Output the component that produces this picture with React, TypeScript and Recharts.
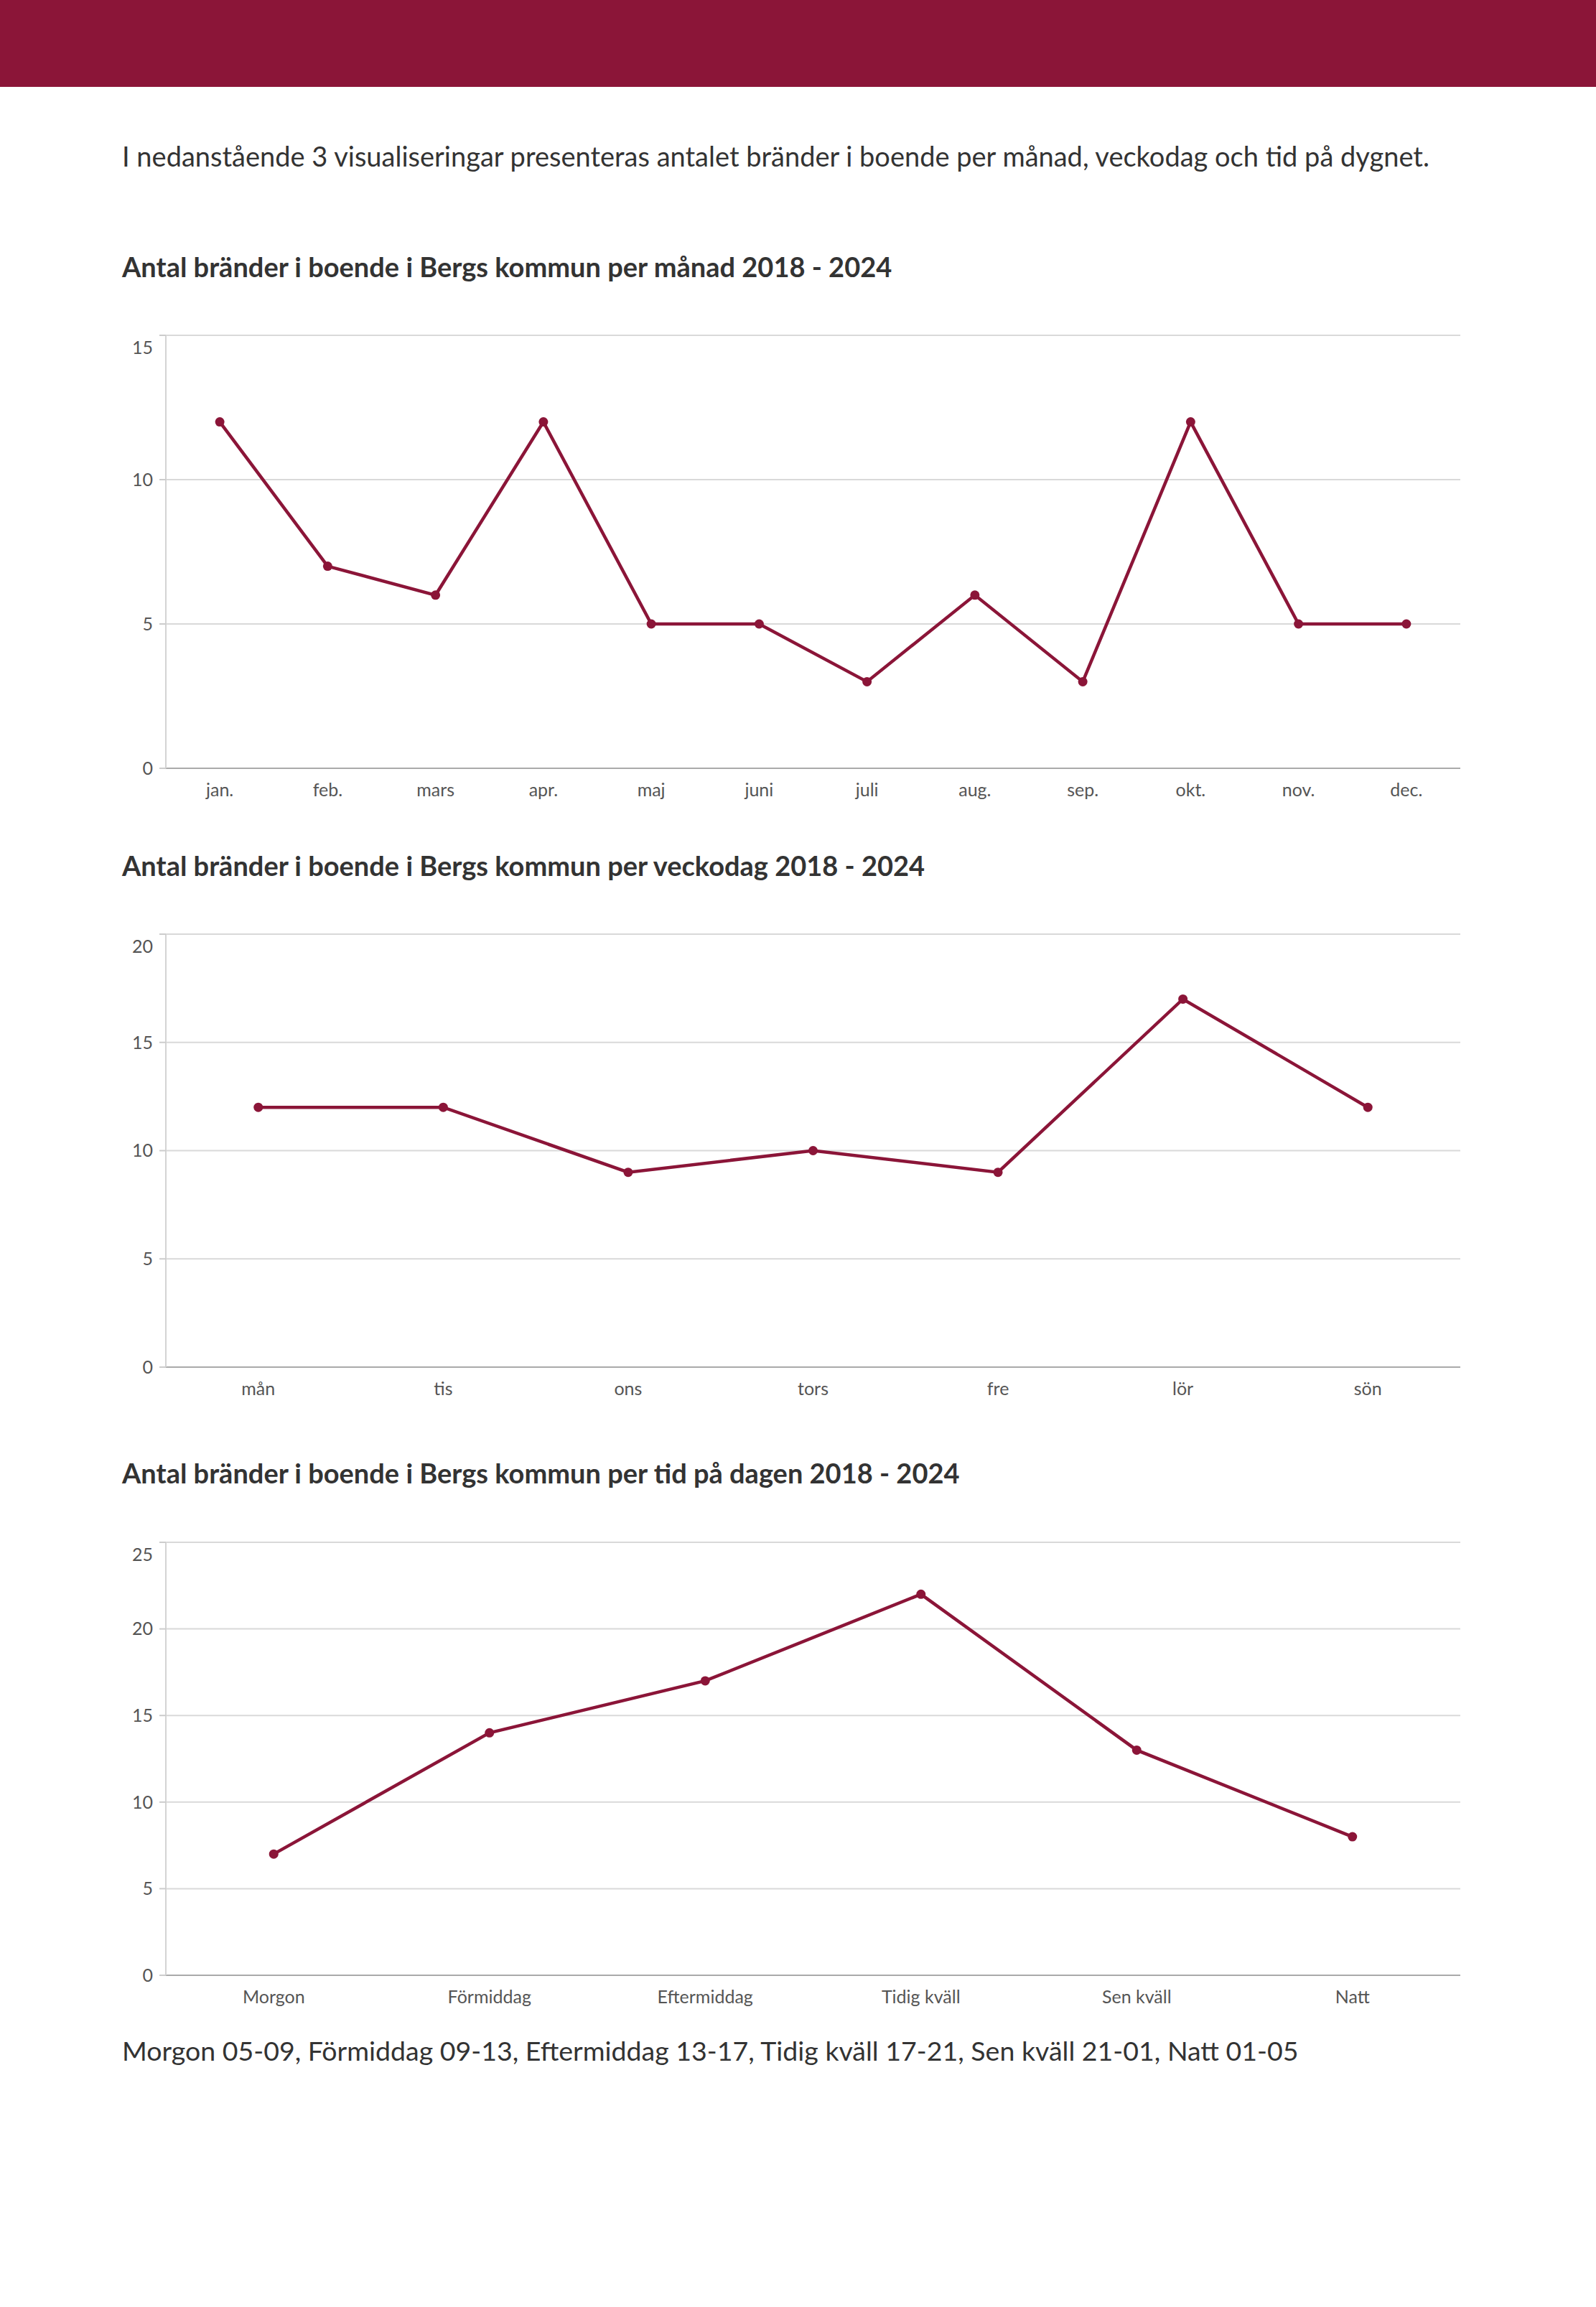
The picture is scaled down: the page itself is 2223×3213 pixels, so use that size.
import React from "react";
import { LineChart, Line, XAxis, YAxis, CartesianGrid } from "recharts";

const MAROON = "#8b1538";
const FONT = "Lato, 'Open Sans', sans-serif";

// Per månad
const months = ["jan.", "feb.", "mars", "apr.", "maj", "juni", "juli", "aug.", "sep.", "okt.", "nov.", "dec."];
const monthValues = [12, 7, 6, 12, 5, 5, 3, 6, 3, 12, 5, 5];
const monthTicks = [0, 5, 10, 15];

// Per veckodag
const weekdays = ["mån", "tis", "ons", "tors", "fre", "lör", "sön"];
const weekdayValues = [12, 12, 9, 10, 9, 17, 12];
const weekdayTicks = [0, 5, 10, 15, 20];

// Per tid på dagen
const dayParts = ["Morgon", "Förmiddag", "Eftermiddag", "Tidig kväll", "Sen kväll", "Natt"];
const dayPartValues = [7, 14, 17, 22, 13, 8];
const dayPartTicks = [0, 5, 10, 15, 20, 25];

const toRows = (labels: string[], values: number[]) =>
  labels.map((label, i) => ({ label, value: values[i] }));

// top label sits inside the plot, just below the top gridline
function YTick(props: any) {
  const { x, y, payload, max } = props;
  const shift = payload.value === max ? 17 : 0;
  return (
    <text
      x={x}
      y={y + shift}
      dy="0.355em"
      textAnchor="end"
      fill="#555"
      fontSize={25}
      fontFamily={FONT}
    >
      {payload.value}
    </text>
  );
}

function FireChart({
  labels,
  values,
  ticks,
  plotTop,
}: {
  labels: string[];
  values: number[];
  ticks: number[];
  plotTop: number;
}) {
  const max = ticks[ticks.length - 1];
  return (
    <div style={{ position: "absolute", left: 150, top: plotTop - 27 }}>
      <LineChart
        width={1900}
        height={700}
        data={toRows(labels, values)}
        margin={{ top: 27, right: 16, bottom: 10, left: 21 }}
      >
        <CartesianGrid vertical={false} stroke="#d9d9d9" strokeWidth={2} />
        <XAxis
          dataKey="label"
          scale="band"
          height={60}
          tickLine={false}
          tickMargin={15}
          axisLine={{ stroke: "#aaa", strokeWidth: 2 }}
          tick={{ fill: "#555", fontSize: 25, fontFamily: FONT }}
          interval={0}
        />
        <YAxis
          width={60}
          domain={[0, max]}
          ticks={ticks}
          interval={0}
          tickSize={9}
          tickMargin={9}
          tickLine={{ stroke: "#ccc", strokeWidth: 2 }}
          axisLine={{ stroke: "#d4d4d4", strokeWidth: 2 }}
          tick={<YTick max={max} />}
        />
        <Line
          type="linear"
          dataKey="value"
          stroke={MAROON}
          strokeWidth={4.5}
          dot={{ r: 6.5, fill: MAROON, stroke: "none" }}
          activeDot={false}
          isAnimationActive={false}
        />
      </LineChart>
    </div>
  );
}

const textStyle = (top: number, size: number, bold = false): React.CSSProperties => ({
  position: "absolute",
  left: 170,
  top: top - size / 2,
  fontSize: size,
  lineHeight: 1,
  fontWeight: bold ? 700 : 400,
  color: "#333",
  fontFamily: FONT,
  whiteSpace: "nowrap",
});

export default function App() {
  return (
    <div
      style={{
        position: "absolute",
        left: 0,
        top: 0,
        width: 2223,
        height: 3213,
        background: "#fff",
        overflow: "hidden",
      }}
    >
      <div style={{ position: "absolute", left: 0, top: 0, width: 2223, height: 121, background: MAROON }} />
      <div style={textStyle(217, 38)}>
        I nedanstående 3 visualiseringar presenteras antalet bränder i boende per månad, veckodag och tid på dygnet.
      </div>

      <div style={textStyle(371, 38, true)}>Antal bränder i boende i Bergs kommun per månad 2018 - 2024</div>
      <FireChart labels={months} values={monthValues} ticks={monthTicks} plotTop={467} />

      <div style={textStyle(1205, 38, true)}>Antal bränder i boende i Bergs kommun per veckodag 2018 - 2024</div>
      <FireChart labels={weekdays} values={weekdayValues} ticks={weekdayTicks} plotTop={1301} />

      <div style={textStyle(2051, 38, true)}>Antal bränder i boende i Bergs kommun per tid på dagen 2018 - 2024</div>
      <FireChart labels={dayParts} values={dayPartValues} ticks={dayPartTicks} plotTop={2148} />

      <div style={textStyle(2856, 37.5)}>
        Morgon 05-09, Förmiddag 09-13, Eftermiddag 13-17, Tidig kväll 17-21, Sen kväll 21-01, Natt 01-05
      </div>
    </div>
  );
}
